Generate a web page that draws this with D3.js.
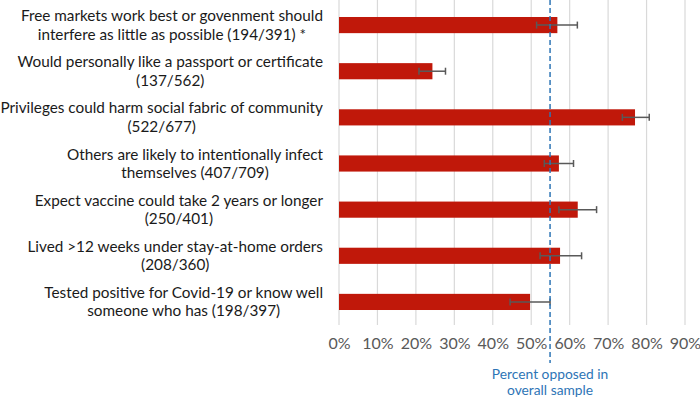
<!DOCTYPE html>
<html><head><meta charset="utf-8">
<script src="https://cdn.jsdelivr.net/npm/d3@7"></script>
<style>body{margin:0;background:#fff;} svg{display:block;}</style>
</head><body>
<svg id="c" width="700" height="400"></svg>
<script>
const categories = [
  ["Free markets work best or govenment should", "interfere as little as possible (194/391) *"],
  ["Would personally like a passport or certificate", "(137/562)"],
  ["Privileges could harm social fabric of community", "(522/677)"],
  ["Others are likely to intentionally infect", "themselves (407/709)"],
  ["Expect vaccine could take 2 years or longer", "(250/401)"],
  ["Lived >12 weeks under stay-at-home orders", "(208/360)"],
  ["Tested positive for Covid-19 or know well", "someone who has (198/397)"]
];
const values = [0.568, 0.243, 0.770, 0.572, 0.621, 0.575, 0.497];
const errLow = [0.514, 0.208, 0.737, 0.534, 0.572, 0.523, 0.445];
const errHigh = [0.620, 0.277, 0.807, 0.610, 0.670, 0.631, 0.549];
const overall = 0.549;
const ticks = [0, 0.1, 0.2, 0.3, 0.4, 0.5, 0.6, 0.7, 0.8, 0.9];
const refLabel = ["Percent opposed in", "overall sample"];

const svg = d3.select("#c");
const font = "Lato, sans-serif";
const x = d3.scaleLinear().domain([0, 0.9]).range([339, 685]);
const y = d3.scaleBand().domain(d3.range(categories.length)).range([2, 325]).paddingInner(0.65).paddingOuter(0.325);

// gridlines
svg.append("g").selectAll("line").data(ticks).join("line")
  .attr("x1", d => x(d)).attr("x2", d => x(d))
  .attr("y1", 0).attr("y2", 325)
  .attr("stroke", "#d9d9d9").attr("stroke-width", 1.2);

// x axis labels
const xAxis = d3.axisBottom(x).tickValues(ticks).tickFormat(d3.format(".0%")).tickSize(0).tickPadding(0);
const gx = svg.append("g").attr("transform", "translate(0,338)").call(xAxis);
gx.select(".domain").remove();
gx.selectAll("text").attr("font-family", font).attr("font-size", 16).attr("fill", "#595959");

// bars
svg.append("g").selectAll("rect").data(values).join("rect")
  .attr("x", x(0)).attr("y", (d, i) => y(i))
  .attr("width", d => x(d) - x(0)).attr("height", y.bandwidth())
  .attr("fill", "#c0180a");

// error bars
const eb = svg.append("g").attr("stroke", "#595959").attr("stroke-width", 1.5);
values.forEach((v, i) => {
  const cy = y(i) + y.bandwidth() / 2;
  eb.append("line").attr("x1", x(errLow[i])).attr("x2", x(errHigh[i])).attr("y1", cy).attr("y2", cy);
  eb.append("line").attr("x1", x(errLow[i])).attr("x2", x(errLow[i])).attr("y1", cy - 3.5).attr("y2", cy + 3.5);
  eb.append("line").attr("x1", x(errHigh[i])).attr("x2", x(errHigh[i])).attr("y1", cy - 3.5).attr("y2", cy + 3.5);
});

// overall dashed line
svg.append("line").attr("x1", x(overall)).attr("x2", x(overall)).attr("y1", 0).attr("y2", 363)
  .attr("stroke", "#2e75b6").attr("stroke-width", 1.5).attr("stroke-dasharray", "5,3");

// ref label
svg.append("g").selectAll("text").data(refLabel).join("text")
  .attr("x", x(overall)).attr("y", (d, i) => 379 + i * 16)
  .attr("text-anchor", "middle").attr("font-family", font).attr("font-size", 13.8)
  .attr("fill", "#2e75b6").text(d => d);

// category labels: lines centred within a block right-aligned at 323
const gl = svg.append("g");
categories.forEach((lines, i) => {
  const cy = y(i) + y.bandwidth() / 2;
  const g = gl.append("g");
  const texts = lines.map((t, j) => g.append("text").attr("y", cy - 4 + j * 18.5)
      .attr("text-anchor", "middle").attr("font-family", font).attr("font-size", 15.3)
      .attr("fill", "#1a1a1a").text(t));
  const maxW = d3.max(texts, t => t.node().getComputedTextLength());
  texts.forEach(t => t.attr("x", 323 - maxW / 2));
});
</script>
</body></html>
